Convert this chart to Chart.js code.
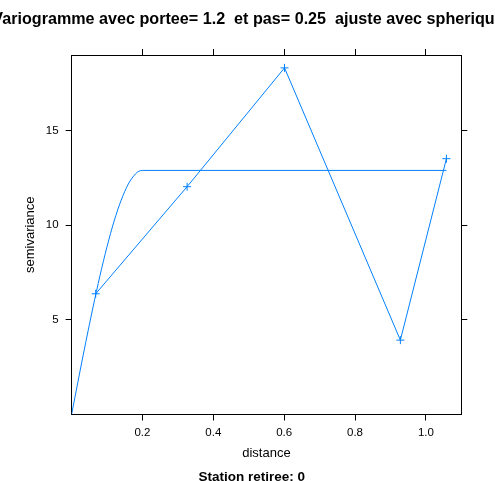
<!DOCTYPE html>
<html>
<head>
<meta charset="utf-8">
<script src="https://cdn.jsdelivr.net/npm/chart.js@4/dist/chart.umd.min.js"></script>
<style>
    html, body { margin: 0; padding: 0; background: #fff; }
    canvas { display: block; }
</style>
</head>
<body>
<canvas id="variogramChart" width="495" height="481"></canvas>
<script>
// Empirical variogram (lag distance / semivariance)
const lagDist = [0.068, 0.326, 0.601, 0.928, 1.058];
const gammaObs = [6.38, 12.04, 18.32, 3.93, 13.52];

// Fitted spherical model
const fitDist = [0, 0.02, 0.04, 0.06, 0.08, 0.10, 0.12, 0.14, 0.16, 0.18, 0.19, 0.20, 1.058];
const fitGamma = [0, 1.93, 3.82, 5.63, 7.33, 8.87, 10.22, 11.33, 12.18, 12.71, 12.86, 12.9, 12.9];

const xTicks = [0.2, 0.4, 0.6, 0.8, 1.0];
const yTicks = [5, 10, 15];

const mainTitle = 'Variogramme avec portee= 1.2  et pas= 0.25  ajuste avec spherique';
const subTitle = 'Station retiree: 0';

const blue = '#0080ff';
const fontFamily = '"Liberation Sans", Arial, Helvetica, sans-serif';

// Title above the panel and the note under the axis
const headerText = {
    id: 'headerText',
    afterDraw(chart) {
        const ctx = chart.ctx;
        ctx.save();
        ctx.fillStyle = '#000';
        ctx.textAlign = 'center';
        ctx.textBaseline = 'alphabetic';
        ctx.font = 'bold 16.15px ' + fontFamily;
        ctx.fillText(mainTitle, 248, 24);
        ctx.font = 'bold 13.5px ' + fontFamily;
        ctx.fillText(subTitle, 251.7, 480.7);
        ctx.restore();
    }
};

function fixedSize(size, horizontal) {
    return function(scale) {
        if (horizontal) {
            scale.height = size;
        } else {
            scale.width = size;
        }
    };
}

function setTicks(values) {
    return function(scale) {
        scale.ticks = values.map(v => ({ value: v }));
    };
}

const frameGrid = {
    drawOnChartArea: false,
    drawTicks: true,
    tickLength: 6,
    color: '#000',
    lineWidth: 1
};
const frameBorder = { display: true, color: '#000', width: 1 };

new Chart(document.getElementById('variogramChart'), {
    type: 'line',
    data: {
        datasets: [
            {
                label: 'empirique',
                data: lagDist.map((x, i) => ({ x: x, y: gammaObs[i] })),
                borderColor: blue,
                backgroundColor: blue,
                borderWidth: 1,
                pointStyle: 'cross',
                pointRadius: 4,
                pointBorderWidth: 1,
                pointBorderColor: blue,
                tension: 0,
                fill: false
            },
            {
                label: 'spherique',
                data: fitDist.map((x, i) => ({ x: x, y: fitGamma[i] })),
                borderColor: blue,
                borderWidth: 1,
                pointRadius: 0,
                cubicInterpolationMode: 'monotone',
                fill: false
            }
        ]
    },
    options: {
        responsive: false,
        animation: false,
        events: [],
        layout: { padding: 0 },
        plugins: {
            legend: { display: false },
            title: { display: false },
            tooltip: { enabled: false }
        },
        scales: {
            x: {
                type: 'linear',
                position: 'bottom',
                min: 0,
                max: 1.1,
                afterBuildTicks: setTicks(xTicks),
                afterFit: fixedSize(66.5, true),
                grid: frameGrid,
                border: frameBorder,
                ticks: {
                    color: '#000',
                    padding: 5,
                    maxRotation: 0,
                    font: { family: fontFamily, size: 11.5 },
                    callback: v => v.toFixed(1)
                },
                title: {
                    display: true,
                    text: 'distance',
                    color: '#000',
                    font: { family: fontFamily, size: 13 },
                    padding: { top: 0, bottom: 20 }
                }
            },
            x2: {
                type: 'linear',
                position: 'top',
                min: 0,
                max: 1.1,
                afterBuildTicks: setTicks(xTicks),
                afterFit: fixedSize(55, true),
                grid: frameGrid,
                border: frameBorder,
                ticks: { display: false }
            },
            y: {
                type: 'linear',
                position: 'left',
                min: 0,
                max: 19,
                afterBuildTicks: setTicks(yTicks),
                afterFit: fixedSize(71.6, false),
                grid: frameGrid,
                border: frameBorder,
                ticks: {
                    color: '#000',
                    padding: 7,
                    font: { family: fontFamily, size: 11.5 }
                },
                title: {
                    display: true,
                    text: 'semivariance',
                    color: '#000',
                    font: { family: fontFamily, size: 13 },
                    padding: { top: 22.2, bottom: 0 }
                }
            },
            y2: {
                type: 'linear',
                position: 'right',
                min: 0,
                max: 19,
                afterBuildTicks: setTicks(yTicks),
                afterFit: fixedSize(33.7, false),
                grid: frameGrid,
                border: frameBorder,
                ticks: { display: false }
            }
        }
    },
    plugins: [headerText]
});
</script>
</body>
</html>
